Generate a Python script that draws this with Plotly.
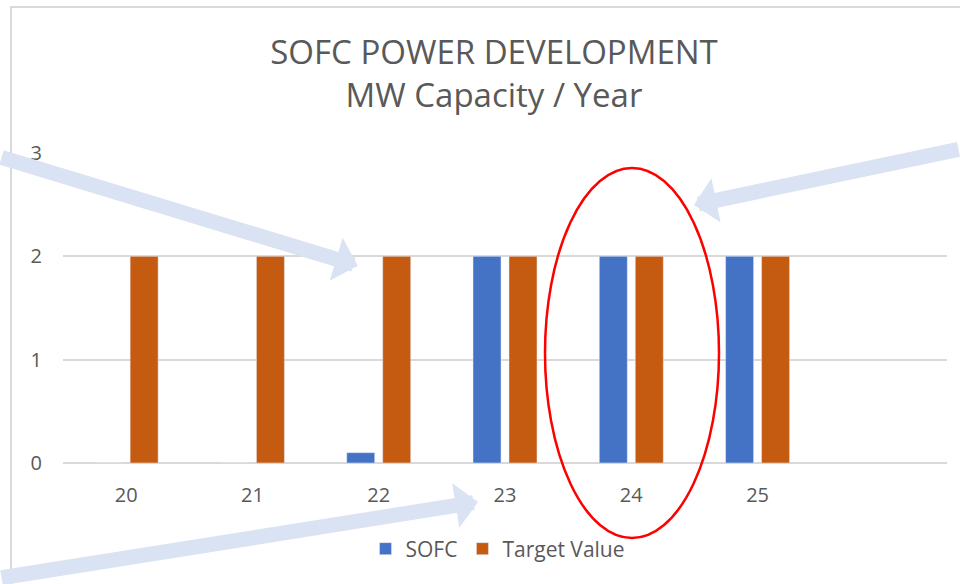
import plotly.graph_objects as go

# ---- data ----
years = [20, 21, 22, 23, 24, 25]
year_labels = ["20", "21", "22", "23", "24", "25"]
sofc = [0, 0, 0.1, 2, 2, 2]
target = [2, 2, 2, 2, 2, 2]
y_ticks = [0, 1, 2, 3]

BLUE = "#4472C4"
ORANGE = "#C55A11"
TXT = "#595959"
GRID = "#D9D9D9"
ARROW = "#DAE3F3"
FONT = "Open Sans"

W, H = 960, 584
L, R, T, B = 63, 13, 153, 121
PW, PH = W - L - R, H - T - B


def px2paper(px, py):
    return (px - L) / PW, (H - B - py) / PH


fig = go.Figure()
fig.add_trace(go.Bar(x=years, y=sofc, name="SOFC", marker_color=BLUE))
fig.add_trace(go.Bar(x=years, y=target, name="Target Value", marker_color=ORANGE))

# decorative arrows (tip, tail in pixels)
arrows = [((357.7, 265.7), (-20, 157)),
          ((694, 205), (985, 149)),
          ((478, 502), (-20, 578))]
annotations = []
for (tx, ty), (sx, sy) in arrows:
    xp, yp = px2paper(tx, ty)
    annotations.append(dict(
        x=xp, y=yp, xref="paper", yref="paper", text="", showarrow=True,
        ax=sx - tx, ay=sy - ty, axref="pixel", ayref="pixel",
        arrowhead=1, arrowsize=0.5, arrowwidth=15, arrowcolor=ARROW,
        standoff=0, startstandoff=0,
    ))

ex0, ey1 = px2paper(545, 538)
ex1, ey0 = px2paper(719, 168)
bx0, by1 = px2paper(11, 7)

shapes = [
    dict(type="rect", xref="paper", yref="paper", x0=bx0, x1=1.2, y0=-0.8, y1=by1,
         line=dict(color=GRID, width=2), layer="below"),
    dict(type="circle", xref="paper", yref="paper", x0=ex0, x1=ex1, y0=ey1, y1=ey0,
         line=dict(color="#FF0000", width=2.5), layer="above"),
]

fig.update_layout(
    width=W, height=H,
    margin=dict(l=L, r=R, t=T, b=B),
    paper_bgcolor="white", plot_bgcolor="white",
    font=dict(family=FONT, color=TXT, size=20),
    title=dict(text="SOFC POWER DEVELOPMENT<br>MW Capacity / Year",
               font=dict(family=FONT, size=33, color=TXT),
               x=494 / W, xanchor="center", xref="container",
               y=1 - 64 / H, yanchor="top", yref="container"),
    barmode="group", bargap=0.43, bargroupgap=0.222,
    xaxis=dict(range=[19.5, 26.5], tickvals=years, ticktext=year_labels,
               showgrid=False, showline=False, zeroline=False, ticks="",
               tickfont=dict(size=20, color=TXT), ticklabelstandoff=18),
    yaxis=dict(range=[0, 3], tickvals=y_ticks, showgrid=True, gridcolor=GRID,
               gridwidth=1.5, zeroline=True, zerolinecolor=GRID, zerolinewidth=1.5,
               showline=False, ticks="", tickfont=dict(size=20, color=TXT),
               ticklabelstandoff=20),
    legend=dict(orientation="h", x=(498 - L) / PW, xanchor="center",
                y=(H - B - 549) / PH, yanchor="middle",
                font=dict(size=21, color=TXT), bgcolor="rgba(0,0,0,0)"),
    showlegend=True,
    annotations=annotations,
    shapes=shapes,
)

fig.write_html("out.html", config={"displayModeBar": False},
               post_script="document.body.style.margin='0';document.body.style.overflow='hidden';")
